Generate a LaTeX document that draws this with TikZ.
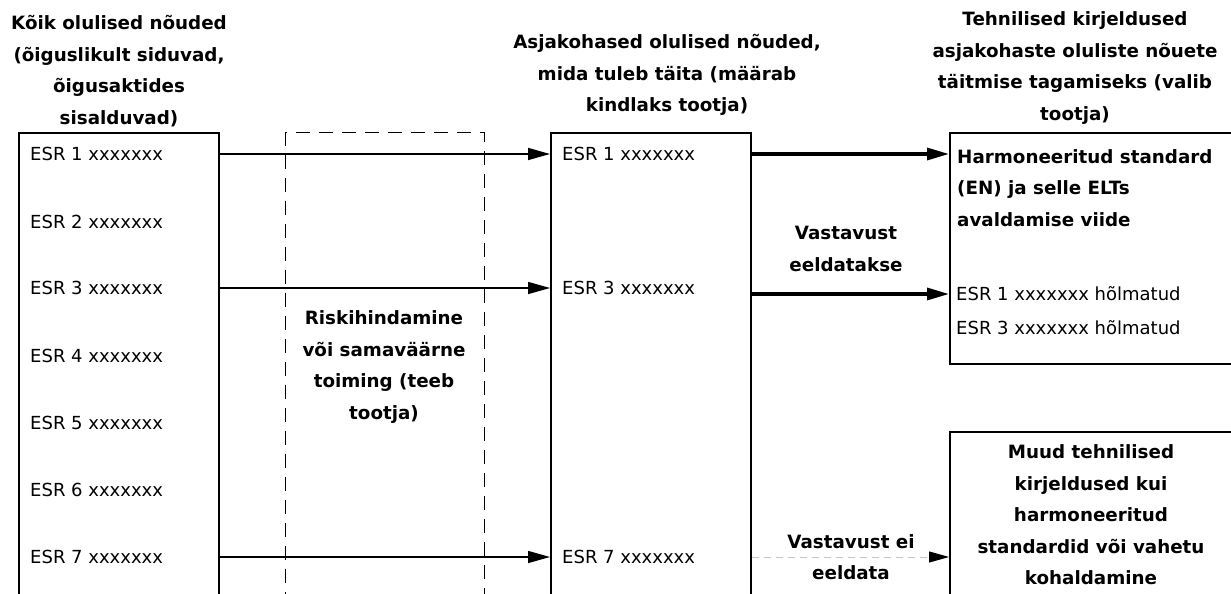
\documentclass[tikz,border=0pt]{standalone}
\usepackage{fontspec}
\setmainfont{DejaVu Sans}
\usetikzlibrary{arrows.meta,positioning}

\begin{document}
\begin{tikzpicture}[x=1pt,y=-1pt,>={Triangle[length=22pt,width=12pt]}]

    % Styles
    \tikzset{
        box/.style={draw=black, line width=1.8pt, anchor=north west, inner sep=0pt},
        riskbox/.style={draw=black, line width=1.3pt, dash pattern=on 14pt off 9pt, anchor=north west, inner sep=0pt},
        heading/.style={align=center, font=\fontsize{18.3}{31.5}\selectfont\bfseries, inner sep=0pt},
        esr/.style={anchor=west, font=\fontsize{18}{31.5}\selectfont, inner sep=0pt},
        link/.style={->, line width=1.5pt},
        strong/.style={->, line width=3.2pt},
        weak/.style={-{Triangle[length=20pt,width=11pt,black]}, line width=1pt, gray!45, dash pattern=on 7pt off 5pt}
    }

    \clip (0,0) rectangle (1231,594);

    % Boxes (they run past the bottom and right edge)
    \node[box, minimum width=200pt, minimum height=500pt] (allreq) at (18,132) {};
    \node[riskbox, minimum width=199pt, minimum height=500pt] (risk) at (285,132) {};
    \node[box, minimum width=200pt, minimum height=500pt] (relreq) at (550,132) {};
    \node[box, minimum width=300pt, minimum height=231pt] (harm) at (949,132) {};
    \node[box, minimum width=300pt, minimum height=200pt] (other) at (949,431) {};

    % Headings
    \node[heading] (allhead) at (119,71) {Kõik olulised nõuded\\(õiguslikult siduvad,\\õigusaktides\\sisalduvad)};
    \node[heading] (relhead) at (667,75) {Asjakohased olulised nõuded,\\mida tuleb täita (määrab\\kindlaks tootja)};
    \node[heading] (techhead) at (1075,68) {Tehnilised kirjeldused\\asjakohaste oluliste nõuete\\täitmise tagamiseks (valib\\tootja)};

    % Requirement lists
    \foreach \i/\y in {1/154,2/222,3/288,4/356,5/423,6/490,7/557}
        \node[esr] (esrA\i) at (30,\y) {ESR \i\ xxxxxxx};
    \foreach \i/\y in {1/154,3/288,7/557}
        \node[esr] (esrB\i) at (562,\y) {ESR \i\ xxxxxxx};

    % Texts inside the boxes
    \node[heading] (riskt) at (384,367) {Riskihindamine\\või samaväärne\\toiming (teeb\\tootja)};
    \node[heading, align=left, anchor=west] (harmt) at (957,188) {Harmoneeritud standard\\(EN) ja selle ELTs\\avaldamise viide};
    \node[esr] (hlm1) at (956,294) {ESR 1 xxxxxxx hõlmatud};
    \node[esr] (hlm3) at (956,328) {ESR 3 xxxxxxx hõlmatud};
    \node[heading] (othert) at (1091,515) {Muud tehnilised\\kirjeldused kui\\harmoneeritud\\standardid või vahetu\\kohaldamine};

    % Arrow labels
    \node[heading] (presumed) at (846,249) {Vastavust\\eeldatakse};
    \node[heading] (notpresumed) at (851,557) {Vastavust ei\\eeldata};

    % Arrows
    \draw[link] (allreq.east |- esrA1) -- (relreq.west |- esrA1);
    \draw[link] (allreq.east |- esrA3) -- (relreq.west |- esrA3);
    \draw[link] (allreq.east |- esrA7) -- (relreq.west |- esrA7);
    \draw[strong] (relreq.east |- esrB1) -- (harm.west |- esrB1);
    \draw[strong] (relreq.east |- hlm1) -- (harm.west |- hlm1);
    \draw[weak] (relreq.east |- esrB7) -- (other.west |- esrB7);

\end{tikzpicture}
\end{document}
